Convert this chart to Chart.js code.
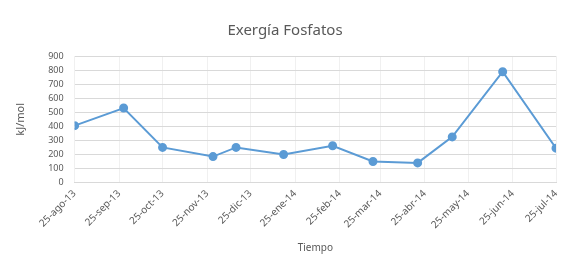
<!DOCTYPE html>
<html>
<head>
<meta charset="utf-8">
<script src="https://cdn.jsdelivr.net/npm/chart.js@4/dist/chart.umd.min.js"></script>
<style>
  html, body { margin: 0; padding: 0; background: #ffffff; }
  #wrap { width: 578px; height: 270px; position: relative; }
</style>
</head>
<body>
<div id="wrap"><canvas id="exergiaChart"></canvas></div>
<script>
// fechas de muestreo y valores de exergía (kJ/mol)
const sampleDates = ["2013-08-25", "2013-09-28", "2013-10-25", "2013-11-29", "2013-12-15", "2014-01-17",
                     "2014-02-20", "2014-03-20", "2014-04-20", "2014-05-14", "2014-06-18", "2014-07-25"];
const exergia = [405, 530, 250, 185, 250, 200, 262, 150, 140, 325, 788, 245];

// marcas del eje x (cada mes)
const tickDates = ["2013-08-25", "2013-09-25", "2013-10-25", "2013-11-25", "2013-12-25", "2014-01-25",
                   "2014-02-25", "2014-03-25", "2014-04-25", "2014-05-25", "2014-06-25", "2014-07-25"];
const tickLabels = ["25-ago-13", "25-sep-13", "25-oct-13", "25-nov-13", "25-dic-13", "25-ene-14",
                    "25-feb-14", "25-mar-14", "25-abr-14", "25-may-14", "25-jun-14", "25-jul-14"];
const yTicks = [0, 100, 200, 300, 400, 500, 600, 700, 800, 900];

const dayMs = 24 * 3600 * 1000;
const toDays = (s) => Math.round((Date.parse(s) - Date.parse(sampleDates[0])) / dayMs);
const tickDays = tickDates.map(toDays);

const font = "'Noto Sans', 'Liberation Sans', sans-serif";
const grey = "#595959";

new Chart(document.getElementById("exergiaChart"), {
    type: "line",
    data: {
        datasets: [
            {
                label: "Exergía",
                data: sampleDates.map((d, i) => ({ x: toDays(d), y: exergia[i] })),
                borderColor: "#5b9bd5",
                backgroundColor: "#5b9bd5",
                borderWidth: 2,
                pointRadius: 3.5,
                pointHoverRadius: 3.5,
                tension: 0,
                fill: false,
            },
        ],
    },
    options: {
        responsive: true,
        maintainAspectRatio: false,
        animation: false,
        layout: { padding: { left: 14, right: 22, top: 0, bottom: 16 } },
        plugins: {
            legend: { display: false },
            tooltip: { enabled: false },
            title: {
                display: true,
                text: "Exergía Fosfatos",
                color: grey,
                font: { family: font, size: 15, weight: "normal" },
                padding: { top: 22, bottom: 16 },
            },
        },
        scales: {
            x: {
                type: "linear",
                min: tickDays[0],
                max: tickDays[tickDays.length - 1],
                afterBuildTicks: (scale) => {
                    scale.ticks = tickDays.map((v) => ({ value: v }));
                },
                ticks: {
                    autoSkip: false,
                    minRotation: 45,
                    maxRotation: 45,
                    color: grey,
                    font: { family: font, size: 10 },
                    padding: 5,
                    callback: (value, index) => tickLabels[index],
                },
                grid: { color: "#f0f0f0", drawTicks: false },
                border: { display: true, color: "#d9d9d9" },
                title: {
                    display: true,
                    text: "Tiempo",
                    color: grey,
                    font: { family: font, size: 10 },
                    padding: { top: 6, bottom: 0 },
                },
            },
            y: {
                min: 0,
                max: 900,
                afterBuildTicks: (scale) => {
                    scale.ticks = yTicks.map((v) => ({ value: v }));
                },
                ticks: {
                    color: grey,
                    font: { family: font, size: 9 },
                    padding: 11,
                },
                grid: { color: "#d9d9d9", drawTicks: false },
                border: { display: false },
                title: {
                    display: true,
                    text: "kJ/mol",
                    color: grey,
                    font: { family: font, size: 11 },
                    padding: { top: 0, bottom: 10 },
                },
            },
        },
    },
});
</script>
</body>
</html>
